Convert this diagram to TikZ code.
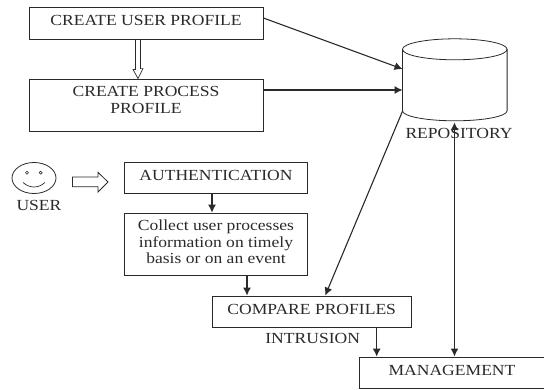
\documentclass[tikz,border=0pt]{standalone}
\usepackage{fontspec}
\setmainfont[FakeStretch=1.14]{Liberation Serif}
\usetikzlibrary{arrows.meta,shapes.geometric,calc}
\definecolor{ink}{HTML}{2A2A2A}
\tikzset{
  box/.style={draw=ink,line width=0.8pt,rectangle,inner sep=0pt,align=center,text=ink,font=\fontsize{15.4}{16.3}\selectfont},
  oneline/.style={text height=10pt,text depth=5pt},
  lbl/.style={text=ink,inner sep=0pt,font=\fontsize{15.4}{16.3}\selectfont},
  conn/.style={draw=ink,line width=1.1pt,-{Latex[length=8pt,width=8pt]}},
  thick conn/.style={draw=ink,line width=1.7pt,{Latex[length=8pt,width=8pt]}-{Latex[length=8pt,width=8pt]}},
  eye/.style={draw=ink,line width=0.6pt,circle,minimum size=3pt,inner sep=0pt},
}
\begin{document}
\begin{tikzpicture}[x=1pt,y=-1pt]
\useasboundingbox (0,0) rectangle (544,389);
\node[box,oneline,minimum width=234pt,minimum height=32pt] (up) at (146,23) {CREATE USER PROFILE};
\node[box,minimum width=234pt,minimum height=52pt] (pp) at (146,105) {CREATE PROCESS\\PROFILE\\[-6pt]\mbox{}};
\node[box,oneline,minimum width=183pt,minimum height=30.5pt] (auth) at (216,177.7) {AUTHENTICATION};
\node[box,minimum width=183pt,minimum height=62pt] (coll) at (216,244) {Collect user processes\\information on timely\\basis or on an event\\[-12pt]\mbox{}};
\node[box,oneline,minimum width=199.5pt,minimum height=31.5pt] (cmp) at (311.7,311.7) {COMPARE PROFILES};
\node[box,oneline,minimum width=185pt,minimum height=31pt] (mgmt) at (452,372.5) {MANAGEMENT};
% repository
\node[minimum width=104.6pt,minimum height=82pt,inner sep=0pt] (repo) at (455,80) {};
\draw[ink,line width=0.8pt] (repo.north west)++(0,10.5) coordinate (rtl)
  arc[start angle=180,end angle=0,x radius=52.3pt,y radius=10.5pt]
  -- ++(0,61.5) coordinate (rbr)
  arc[start angle=0,end angle=-180,x radius=52.3pt,y radius=10pt] -- cycle;
\draw[ink,line width=0.8pt] (rtl) arc[start angle=180,end angle=360,x radius=52.3pt,y radius=10.5pt];
\node[lbl] (rl) at (459,133) {REPOSITORY};
% user
\node[draw=ink,line width=0.8pt,ellipse,minimum width=44pt,minimum height=31pt,inner sep=0pt] (face) at (34,178) {};
\node[eye] (el) at (27,172.7) {};
\node[eye] (er) at (40.7,172.7) {};
\draw[ink,line width=0.7pt] ($(face.center)+(-11,4.5)$) .. controls ($(face.center)+(-4,10.5)$) and ($(face.center)+(4,10.5)$) .. ($(face.center)+(11,4.5)$);
\node[lbl] (ul) at (39,205) {USER};
% hollow arrows
\coordinate (ha) at (72.5,182);
\coordinate (hb) at (108,182);
\draw[ink,line width=0.8pt,fill=white] (ha)++(0,-5) -- ++(25.5,0) -- ++(0,-4.7) -- (hb) -- ++(-10,10) -- ++(0,-5.3) -- ++(-25.5,0) -- cycle;
\draw[ink,line width=0.7pt] ($(up.south)+(-10.5,0)$) -- ++(0,30) -- ++(-2.5,0) -- ($(pp.north)+(-8,0)$) -- ++(5,-10) -- ++(-2.5,0) -- ($(up.south)+(-5.5,0)$);
% connectors
\draw[conn] ($(up.east)+(0,-5)$) -- ($(repo.west)+(0,-11)$);
\draw[conn] ($(pp.east)+(0,-15)$) -- ($(repo.west)+(0,10)$);
\draw[conn] ($(repo.south west)+(0,-10)$) -- ($(cmp.north)+(13.5,0)$);
\draw[conn] ($(auth.south)+(-4,0)$) -- ($(coll.north)+(-4,0)$);
\draw[conn] ($(coll.south)+(31,0)$) -- ($(cmp.north)+(-64.7,0)$);
\draw[conn] ($(cmp.south)+(65,0)$) -- ($(mgmt.north)+(-75.3,0)$);
\draw[thick conn] ($(repo.south)+(-0.5,1)$) -- ($(mgmt.north)+(2.5,0)$);
\node[lbl] (intr) at (312.7,338.7) {INTRUSION};
\end{tikzpicture}
\end{document}
